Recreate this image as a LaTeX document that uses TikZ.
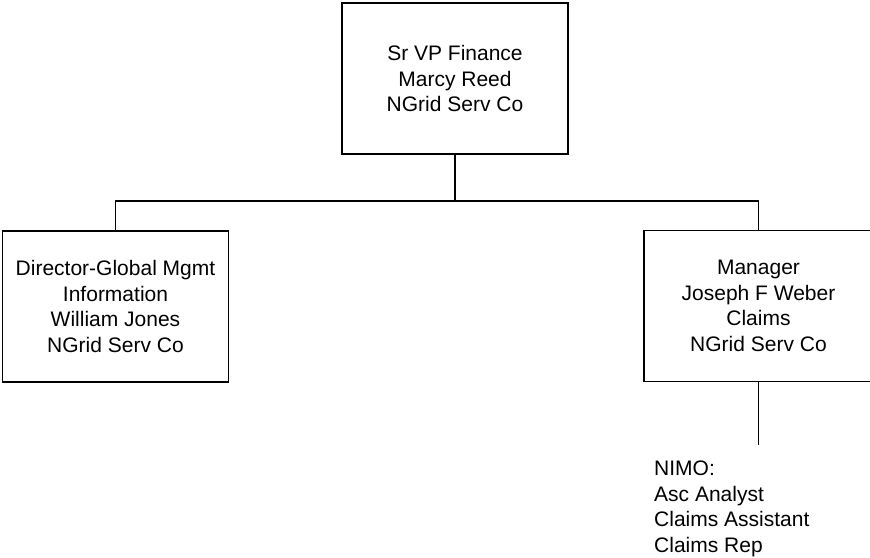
\documentclass[tikz,border=0pt]{standalone}
\usepackage{fontspec}
\setmainfont{Liberation Sans}
\begin{document}
\begin{tikzpicture}[x=1pt,y=-1pt,
  orgbox/.style={draw=black, line width=1.8pt, minimum width=226pt, minimum height=151pt,
    inner sep=0pt, align=center, font=\fontsize{21}{25.7}\selectfont},
  link/.style={draw=black, line width=1.8pt},
  plain/.style={inner sep=0pt, align=left, font=\fontsize{21}{25.7}\selectfont}]
\useasboundingbox (0,0) rectangle (870,557);
\node[orgbox] (top) at (455,78.5) {Sr VP Finance\\Marcy Reed\\NGrid Serv Co};
\node[orgbox] (left) at (115.5,306.5) {Director-Global Mgmt\\Information\\William Jones\\NGrid Serv Co};
\node[orgbox, minimum width=229pt] (right) at (758.5,306) {Manager\\Joseph F Weber\\Claims\\NGrid Serv Co};
\coordinate (bus) at (455,201);
\coordinate (rend) at (758.5,445);
\draw[link] (top.south) -- (bus);
\draw[link] (left.north) -- (left.north |- bus) -- (right.north |- bus) -- (right.north);
\draw[link] (right.south) -- (rend);
\node[plain, anchor=north west] (nimo) at (654,460.5) {NIMO:\\Asc Analyst\\Claims Assistant\\Claims Rep};
\end{tikzpicture}
\end{document}
